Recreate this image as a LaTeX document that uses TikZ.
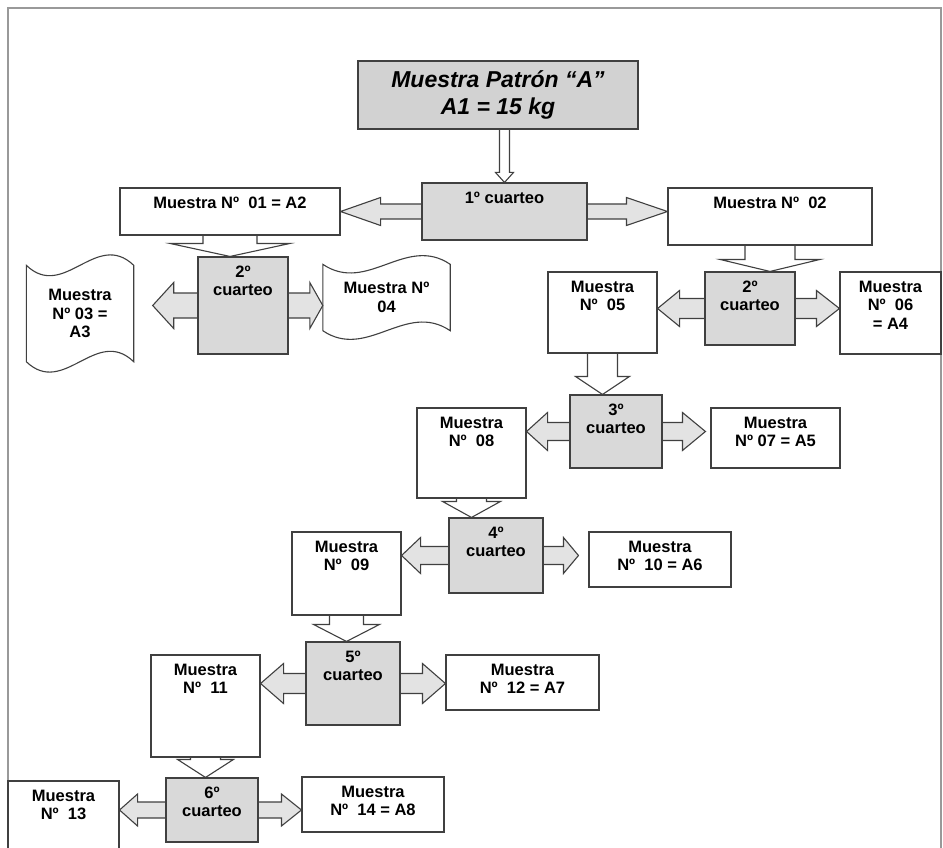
\documentclass[tikz,border=0pt]{standalone}
\usepackage{fontspec}
\setmainfont{Liberation Sans}
\usetikzlibrary{calc}
\pgfdeclarelayer{bg}
\pgfsetlayers{bg,main}

\newcommand{\boxfont}{\bfseries\fontsize{16.5}{18.5}\selectfont}
% block arrow pointing down: start, tip, shaft half width, head half width, head length
\newcommand{\vblock}[5]{%
  \draw[downarr] let \p1=(#1), \p2=(#2) in
    (\x1-#3,\y1) -- (\x1-#3,\y2+#5) -- (\x1-#4,\y2+#5) -- (\x1,\y2)
    -- (\x1+#4,\y2+#5) -- (\x1+#3,\y2+#5) -- (\x1+#3,\y1);}
% double block arrow: left tip, right tip, shaft half, head half, left head, right head
\newcommand{\hblock}[6]{%
  \draw[sidearr] let \p1=(#1), \p2=(#2) in
    (\x1,\y1) -- (\x1+#5,\y1+#4) -- (\x1+#5,\y1+#3) -- (\x2-#6,\y1+#3)
    -- (\x2-#6,\y1+#4) -- (\x2,\y1) -- (\x2-#6,\y1-#4) -- (\x2-#6,\y1-#3)
    -- (\x1+#5,\y1-#3) -- (\x1+#5,\y1-#4) -- cycle;}
% wavy paper outline round a node: node, wave control offset
\newcommand{\docshape}[2]{%
  \draw[docline] (#1.north west)
    .. controls ($(#1.north west)!0.35!(#1.north east)+(0,#2)$) and ($(#1.north west)!0.65!(#1.north east)+(0,-#2)$) .. (#1.north east)
    -- (#1.south east)
    .. controls ($(#1.south east)!0.35!(#1.south west)+(0,-#2)$) and ($(#1.south east)!0.65!(#1.south west)+(0,#2)$) .. (#1.south west)
    -- cycle;}

\begin{document}
\begin{tikzpicture}[
    x=1pt, y=-1pt,
    frame/.style={draw=gray!80, line width=1.4pt},
    titlebox/.style={rectangle, draw=black!75, fill=gray!35, line width=1.1pt, minimum width=280pt, minimum height=68pt, align=center, font=\bfseries\itshape\fontsize{23}{27}\selectfont},
    samp/.style={rectangle, draw=black!75, fill=white, line width=1.1pt, inner sep=0pt},
    cuarto/.style={samp, fill=gray!30},
    doc/.style={rectangle, align=center, font=\boxfont, inner sep=0pt},
    docline/.style={draw=black!75, fill=white, line width=1.1pt},
    intxt/.style={anchor=north, align=center, font=\boxfont, inner sep=0pt, yshift=-9pt},
    downarr/.style={draw=black!75, fill=white, line width=1.1pt},
    sidearr/.style={draw=black!75, fill=gray!22, line width=1.1pt}
]
    \useasboundingbox (0,0) rectangle (943,848);
    \draw[frame] (8,852) -- (8,8) -- (941,8) -- (941,852);

    % standard sample and first quartering
    \node[titlebox] (patron) at (498,95) {Muestra Patrón “A”\\A1 = 15 kg};
    \node[cuarto, minimum width=165pt, minimum height=57pt, label={[intxt]north:{1º cuarteo}}] (c1) at (504.5,211.5) {};
    \node[samp, minimum width=220pt, minimum height=47pt, label={[intxt]north:{Muestra Nº~ 01 = A2}}] (m01) at (230,211.5) {};
    \node[samp, minimum width=204pt, minimum height=57pt, label={[intxt]north:{Muestra Nº~ 02}}] (m02) at (770,216.5) {};

    % second quartering, left branch
    \node[cuarto, minimum width=90pt, minimum height=97pt, label={[intxt]north:{2º\\cuarteo}}] (c2l) at (243,305.5) {};
    \node[doc, minimum width=107pt, minimum height=96pt] (m03) at (80,313.5) {Muestra\\Nº 03 =\\A3};
    \node[doc, minimum width=127pt, minimum height=66pt] (m04) at (386.5,297.5) {Muestra Nº\\04};

    % second quartering, right branch
    \node[cuarto, minimum width=90pt, minimum height=73pt, label={[intxt]north:{2º\\cuarteo}}] (c2r) at (750,308.5) {};
    \node[samp, minimum width=109pt, minimum height=81pt, label={[intxt]north:{Muestra\\Nº~ 05}}] (m05) at (602.5,312.5) {};
    \node[samp, minimum width=101pt, minimum height=82pt, label={[intxt]north:{Muestra\\Nº~ 06\\= A4}}] (m06) at (890.5,313) {};

    % third quartering
    \node[cuarto, minimum width=92pt, minimum height=73pt, label={[intxt]north:{3º\\cuarteo}}] (c3) at (616,431.5) {};
    \node[samp, minimum width=109pt, minimum height=90pt, label={[intxt]north:{Muestra\\Nº~ 08}}] (m08) at (471.5,453) {};
    \node[samp, minimum width=129pt, minimum height=60pt, label={[intxt]north:{Muestra\\Nº 07 = A5}}] (m07) at (775.5,438) {};

    % fourth quartering
    \node[cuarto, minimum width=94pt, minimum height=75pt, label={[intxt]north:{4º\\cuarteo}}] (c4) at (496,555.5) {};
    \node[samp, minimum width=109pt, minimum height=83pt, label={[intxt]north:{Muestra\\Nº~ 09}}] (m09) at (346.5,573.5) {};
    \node[samp, minimum width=142pt, minimum height=55pt, label={[intxt]north:{Muestra\\Nº~ 10 = A6}}] (m10) at (660,559.5) {};

    % fifth quartering
    \node[cuarto, minimum width=94pt, minimum height=83pt, label={[intxt]north:{5º\\cuarteo}}] (c5) at (353,683.5) {};
    \node[samp, minimum width=109pt, minimum height=102pt, label={[intxt]north:{Muestra\\Nº~ 11}}] (m11) at (205.5,706) {};
    \node[samp, minimum width=153pt, minimum height=55pt, label={[intxt]north:{Muestra\\Nº~ 12 = A7}}] (m12) at (522.5,682.5) {};

    % sixth quartering
    \node[cuarto, minimum width=92pt, minimum height=64pt, label={[intxt]north:{6º\\cuarteo}}] (c6) at (212,810) {};
    \node[samp, minimum width=111pt, minimum height=71pt, label={[intxt]north:{Muestra\\Nº~ 13}}] (m13) at (63.5,816.5) {};
    \node[samp, minimum width=142pt, minimum height=55pt, label={[intxt]north:{Muestra\\Nº~ 14 = A8}}] (m14) at (373,804.5) {};

    % paper outlines and block arrows behind the boxes
    \begin{pgfonlayer}{bg}
        \docshape{m03}{36}
        \docshape{m04}{30}
        \vblock{c1.north |- patron.south}{c1.north}{5pt}{9pt}{10pt}
        \hblock{m01.east |- c1.center}{m02.west |- c1.center}{7.5pt}{14pt}{40pt}{41pt}
        \vblock{m01.south}{m01.south |- c2l.north}{27pt}{60pt}{13pt}
        \hblock{[xshift=19pt]m03.east |- c2l.center}{m04.west |- c2l.center}{12.5pt}{23pt}{21pt}{13pt}
        \vblock{m02.south}{m02.south |- c2r.north}{25pt}{50pt}{12pt}
        \hblock{m05.east |- c2r.center}{m06.west |- c2r.center}{10pt}{18pt}{22pt}{23pt}
        \vblock{m05.south}{m05.south |- c3.north}{15pt}{27pt}{18pt}
        \hblock{m08.east |- c3.center}{[xshift=-5pt]m07.west |- c3.center}{9pt}{19pt}{21pt}{23pt}
        \vblock{m08.south}{m08.south |- c4.north}{15pt}{29pt}{16pt}
        \hblock{m09.east |- c4.center}{[xshift=-10pt]m10.west |- c4.center}{9pt}{18pt}{19pt}{15pt}
        \vblock{m09.south}{m09.south |- c5.north}{17pt}{33pt}{17pt}
        \hblock{m11.east |- c5.center}{m12.west |- c5.center}{10pt}{20pt}{23pt}{23pt}
        \vblock{m11.south}{m11.south |- c6.north}{15pt}{28pt}{18pt}
        \hblock{m13.east |- c6.center}{m14.west |- c6.center}{8pt}{16pt}{18pt}{20pt}
    \end{pgfonlayer}
\end{tikzpicture}
\end{document}
